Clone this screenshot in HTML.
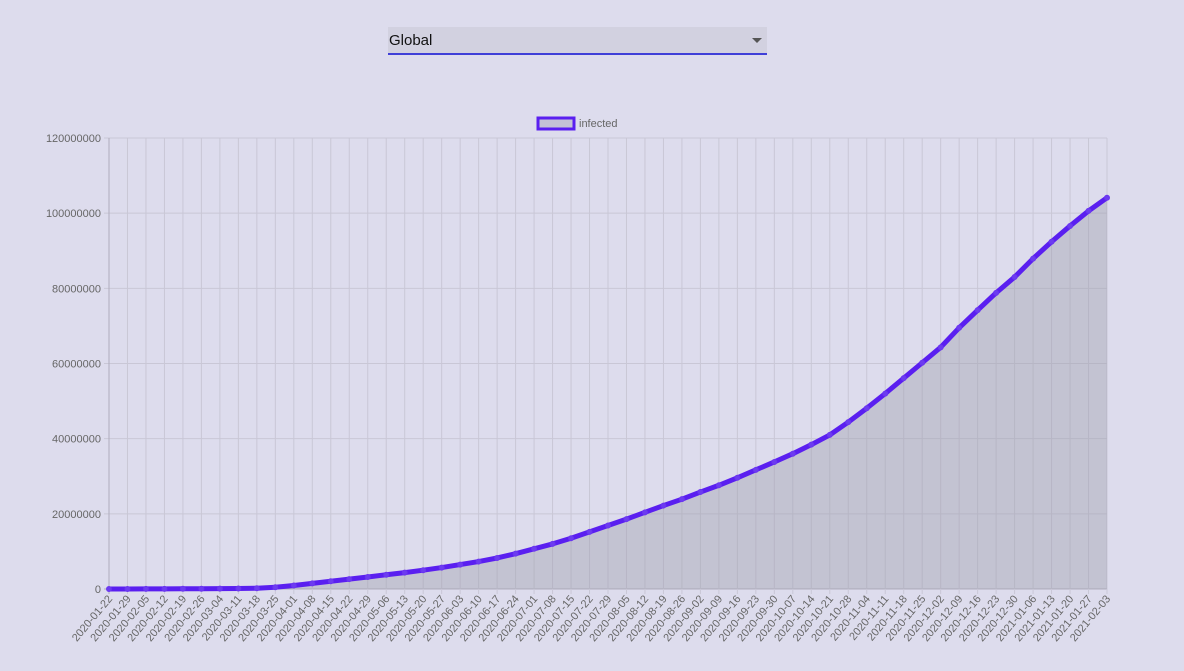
<!DOCTYPE html>
<html><head><meta charset="utf-8"><style>
body{margin:0;width:1184px;height:671px;background:#dddced;font-family:"Liberation Sans",sans-serif;overflow:hidden;position:relative}
#sel{position:absolute;left:388px;top:27px;width:379px;height:26px;background:#d2d1e0;border-bottom:2px solid #3f3fd8}
#sel span{position:absolute;left:1px;top:5px;font-size:15px;color:#111}
#sel i{position:absolute;right:5px;top:11px;border-left:5px solid transparent;border-right:5px solid transparent;border-top:5px solid #555}
svg{position:absolute;left:0;top:0}
</style></head><body>
<div id="sel"><span>Global</span><i></i></div>
<svg id="c" width="1184" height="671"></svg>
<script>
const labels=["2020-01-22","2020-01-29","2020-02-05","2020-02-12","2020-02-19","2020-02-26","2020-03-04","2020-03-11","2020-03-18","2020-03-25","2020-04-01","2020-04-08","2020-04-15","2020-04-22","2020-04-29","2020-05-06","2020-05-13","2020-05-20","2020-05-27","2020-06-03","2020-06-10","2020-06-17","2020-06-24","2020-07-01","2020-07-08","2020-07-15","2020-07-22","2020-07-29","2020-08-05","2020-08-12","2020-08-19","2020-08-26","2020-09-02","2020-09-09","2020-09-16","2020-09-23","2020-09-30","2020-10-07","2020-10-14","2020-10-21","2020-10-28","2020-11-04","2020-11-11","2020-11-18","2020-11-25","2020-12-02","2020-12-09","2020-12-16","2020-12-23","2020-12-30","2021-01-06","2021-01-13","2021-01-20","2021-01-27","2021-02-03"];
const infected=[0.0006,0.006,0.028,0.045,0.075,0.082,0.095,0.126,0.215,0.47,0.93,1.5,2.06,2.62,3.2,3.8,4.35,5.0,5.7,6.5,7.3,8.25,9.4,10.7,12.0,13.5,15.2,16.9,18.6,20.4,22.2,23.9,25.8,27.6,29.6,31.7,33.8,36.0,38.4,41.0,44.4,48.1,52.0,56.1,60.2,64.3,69.5,74.2,78.8,83.0,87.9,92.4,96.6,100.6,104.1].map(v=>v*1e6);
const yTicks=[0,20000000,40000000,60000000,80000000,100000000,120000000];
const NS="http://www.w3.org/2000/svg",svg=document.getElementById('c');
const L=109,R=1107,T=138,B=589,yMax=120000000;
const x=i=>L+i*(R-L)/(labels.length-1), y=v=>B-v/yMax*(B-T);
function mk(t,a,p){const e=document.createElementNS(NS,t);for(const k in a)e.setAttribute(k,a[k]);(p||svg).appendChild(e);return e;}
yTicks.forEach(v=>{
 const g=mk('line',{x1:L-5,x2:R,y1:y(v),y2:y(v),stroke:v===0?'#b0adbd':'#c9c7d6','stroke-width':1});
 
 
 const t=mk('text',{x:L-8,y:y(v)+4,'text-anchor':'end','font-size':11,fill:'#666'});t.textContent=v;
 
 
});
labels.forEach((s,i)=>{
 const g=mk('line',{x1:x(i),x2:x(i),y1:T,y2:B+5,stroke:i===0?'#b0adbd':'#c9c7d6','stroke-width':1});
 
 
 const t=mk('text',{x:x(i)+4,y:B+10,'text-anchor':'end','font-size':11,fill:'#666',transform:`rotate(-50 ${x(i)+4} ${B+10})`});t.textContent=s;
 
 
});
let d=infected.map((v,i)=>(i?'L':'M')+x(i)+','+y(v)).join('');
const area=mk('path',{d:d+`L${x(labels.length-1)},${B}L${L},${B}Z`,fill:'rgba(160,160,175,0.42)'});


const line=mk('path',{d:d,fill:'none',stroke:'#5a1ff0','stroke-width':5,'stroke-linejoin':'round','stroke-linecap':'round'});


infected.forEach((v,i)=>{const c=mk('circle',{cx:x(i),cy:y(v),r:2.5,fill:'rgba(120,80,240,0.6)',stroke:'#6a35f0','stroke-width':1});
 
 });
const lb=mk('rect',{x:538,y:118,width:36,height:11,fill:'#c4c2d6',stroke:'#5a1ff0','stroke-width':3});


const lt=mk('text',{x:579,y:127,'font-size':11,fill:'#666'});lt.textContent='infected';


</script>
</body></html>
